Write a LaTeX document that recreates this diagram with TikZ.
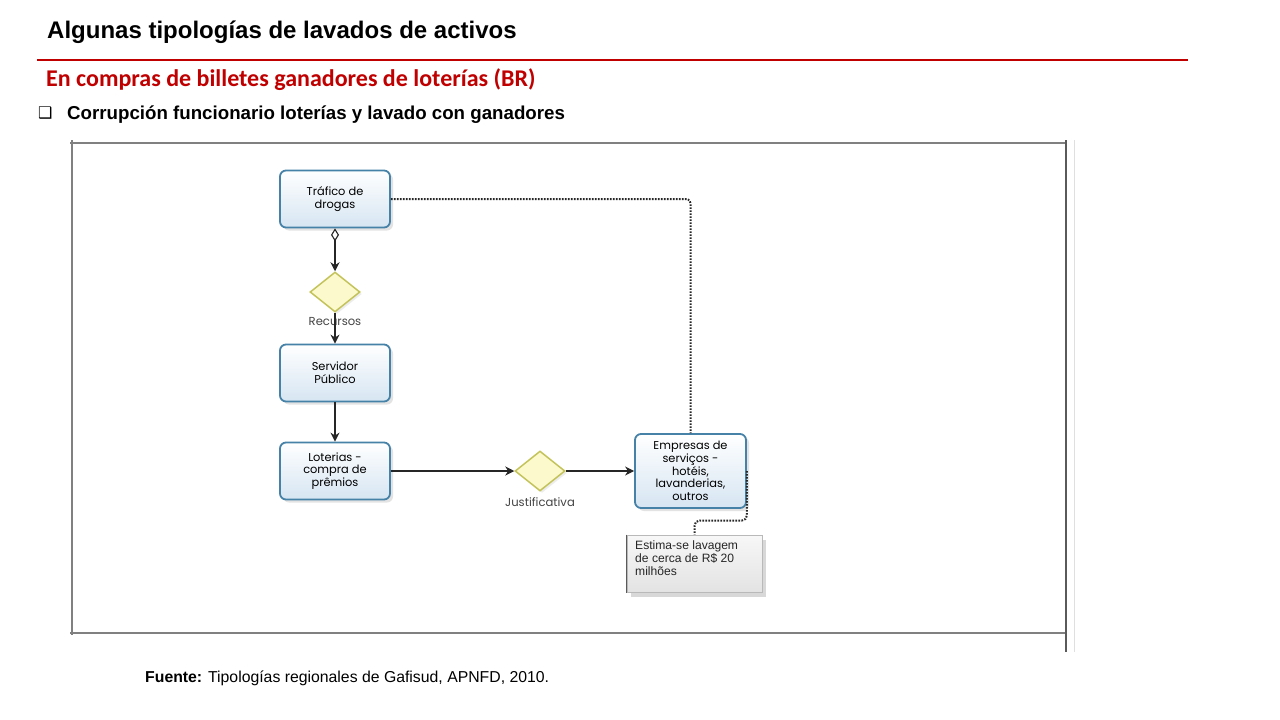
\documentclass[tikz,border=0pt]{standalone}
\usepackage{fontspec}
\setmainfont{Liberation Sans}
\newfontfamily\carlito{Carlito}
\newfontfamily\boxfont{Poppins}
\newfontfamily\dejavu{DejaVu Sans}
\usetikzlibrary{arrows.meta,shapes.geometric,shadows,calc}
\definecolor{titlered}{HTML}{C00000}
\definecolor{boxblue}{HTML}{4682A8}
\definecolor{boxfill}{HTML}{D6E5F2}
\definecolor{gatefill}{HTML}{FCFACD}
\definecolor{gatedraw}{HTML}{C3C35A}
\definecolor{framegray}{HTML}{808080}
\definecolor{framedark}{HTML}{5A5A5A}
\definecolor{lblgray}{HTML}{444444}
\tikzset{
  procbox/.style={draw=boxblue, line width=1.8pt, rounded corners=6pt,
    top color=white, bottom color=boxfill, minimum width=110pt, minimum height=57pt,
    align=center, inner sep=2pt, font=\boxfont\fontsize{11.4}{12.6}\selectfont,
    drop shadow={opacity=0.22, shadow xshift=3pt, shadow yshift=-3pt}},
  gate/.style={diamond, draw=gatedraw, fill=gatefill, line width=1.5pt, inner sep=0pt,
    minimum width=50pt, minimum height=40pt,
    drop shadow={opacity=0.15, shadow xshift=2pt, shadow yshift=-2pt}},
  lbl/.style={font=\boxfont\fontsize{11.6}{13}\selectfont, text=lblgray, inner sep=0pt},
  flow/.style={draw=black!85, line width=1.1pt, -{Stealth[length=9pt,width=9pt]}},
  assoc/.style={draw=black!85, line width=2pt, dash pattern=on 1.6pt off 1.4pt},
  annbox/.style={draw=gray!55, line width=1pt, top color=white!97!black, bottom color=gray!22,
    minimum width=135pt, minimum height=57pt, inner sep=0pt,
    drop shadow={opacity=0.3, shadow xshift=4pt, shadow yshift=-5pt}},
  plain/.style={inner sep=0pt, anchor=base west}
}
\begin{document}
\begin{tikzpicture}[x=1pt,y=-1pt]
\useasboundingbox (0,0) rectangle (1280,720);
\fill[white] (0,0) rectangle (1280,720);

% header
\node[plain, font=\bfseries\fontsize{24}{28}\selectfont] (title) at (47,38) {Algunas tipologías de lavados de activos};
\draw[titlered, line width=1.5pt] (37,60) -- (1188,60);
\node[plain, font=\carlito\bfseries\fontsize{24}{28}\selectfont, text=titlered] (sub) at (46,86) {En compras de billetes ganadores de loterías (BR)};
\node[plain, font=\dejavu\fontsize{16}{18}\selectfont] (bul) at (38,118) {❑};
\node[plain, font=\bfseries\fontsize{18.7}{21}\selectfont] (btext) at (67,119) {Corrupción funcionario loterías y lavado con ganadores};

% frame
\draw[framegray, line width=1.6pt] (70,143) -- (1066,143);
\draw[framegray, line width=1.6pt] (72,140) -- (72,635);
\draw[framegray, line width=1.6pt] (70,633) -- (1066,633);
\draw[framedark, line width=1.6pt] (1066,140) -- (1066,652);
\draw[gray!25, line width=1pt] (1074,140) -- (1074,652);

% nodes
\node[procbox] (traf) at (335,199) {Tráfico de\\drogas};
\node[gate] (g1) at (335,292) {};
\node[lbl] (lrec) at (335,322) {Recursos};
\node[procbox] (serv) at (335,373) {Servidor\\Público};
\node[procbox] (lot) at (335,471) {Loterias -\\compra de\\prêmios};
\node[gate] (g2) at (540,471) {};
\node[lbl] (ljus) at (540,502) {Justificativa};
\node[procbox, minimum width=111pt, minimum height=74pt] (emp) at (690.5,471) {Empresas de\\serviços -\\hotéis,\\lavanderias,\\outros};
\node[annbox] (ann) at (694.5,563.5) {};
\draw[framedark, line width=1.2pt] (ann.north west) -- (ann.south west);
\node[anchor=north west, inner sep=0pt, align=left, font=\fontsize{12.1}{13}\selectfont, text=black!85] (anntext) at (635,540.5) {Estima-se lavagem\\de cerca de R\$ 20\\milhões};

% connectors
\draw[flow, {Diamond[open,length=13pt,width=8pt]}-{Stealth[length=9pt,width=9pt]}] (traf) -- (g1);
\draw[flow] (g1) -- (serv);
\draw[flow] (serv) -- (lot);
\draw[flow] (lot) -- (g2);
\draw[flow] (g2) -- (emp);
\draw[assoc, rounded corners=4pt] (traf.east) -| (emp.north);
\draw[assoc, rounded corners=5pt] (emp.east) |- ([yshift=14pt]ann.north) -- (ann.north);

% source
\node[plain, font=\fontsize{15.8}{18}\selectfont] (src) at (145,682) {\textbf{Fuente:} Tipologías regionales de Gafisud, APNFD, 2010.};
\end{tikzpicture}
\end{document}
